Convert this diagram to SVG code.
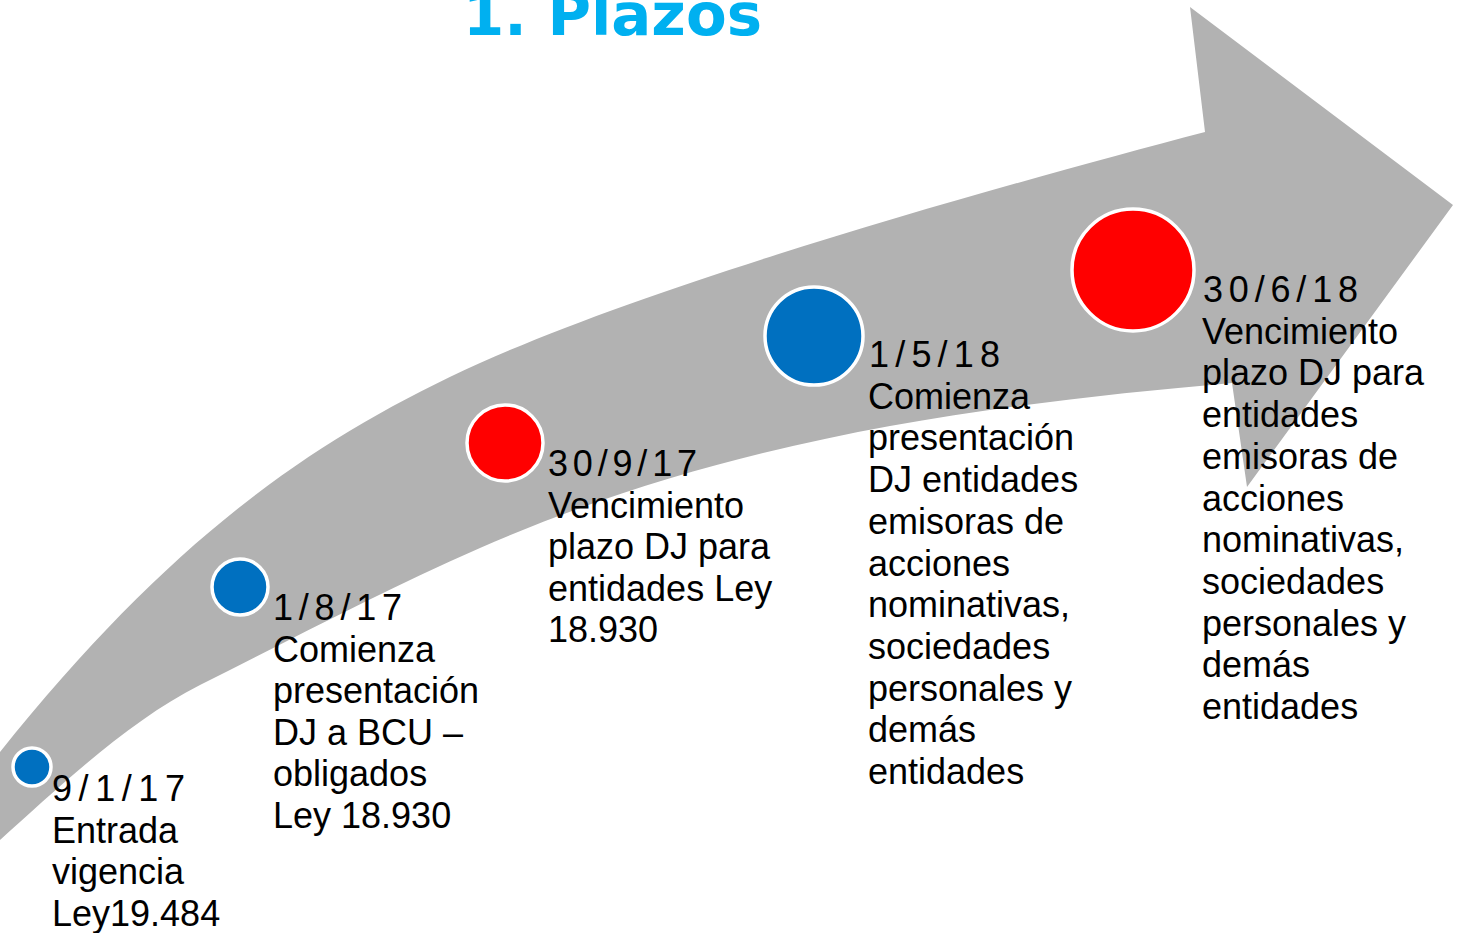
<svg xmlns="http://www.w3.org/2000/svg" width="1461" height="933" viewBox="0 0 1461 933">
<style>
.t{font-family:"Liberation Sans",Arial,sans-serif;font-size:36px;fill:#000}
.title{font-family:"DejaVu Sans",sans-serif;font-weight:bold;font-size:59px;fill:#00B0F0}
.blue{fill:#0070C0;stroke:#fff;stroke-width:3.5}
.red{fill:#FF0000;stroke:#fff;stroke-width:3.5}
</style>
<rect width="1461" height="933" fill="#fff"/>
<g id="arrow">
<path fill="#B2B2B2" d="M0 752 C170 540 310 440 480 363 C670 278 1000 186 1205 132 L1190 7 L1453 205 L1247 487 L1232 383 C982 405 730 438 480 548 C380 592 290 640 200 685 C130 720 60 786 0 840 Z"/>
</g>
<g id="title"><text class="title" x="463" y="35" textLength="299" lengthAdjust="spacingAndGlyphs">1. Plazos</text></g>
<g id="connectors"></g>
<g id="node1">
<circle class="blue" cx="32" cy="767" r="19"/>
<text class="t" x="52" y="801"><tspan textLength="133">9/1/17</tspan><tspan x="52" dy="41.7">Entrada</tspan><tspan x="52" dy="41.7">vigencia</tspan><tspan x="52" dy="41.7">Ley19.484</tspan></text>
</g>
<g id="node2">
<circle class="blue" cx="240" cy="587" r="28"/>
<text class="t" x="273" y="620"><tspan textLength="129">1/8/17</tspan><tspan x="273" dy="41.6">Comienza</tspan><tspan x="273" dy="41.6">presentación</tspan><tspan x="273" dy="41.6">DJ a BCU –</tspan><tspan x="273" dy="41.6">obligados</tspan><tspan x="273" dy="41.6">Ley 18.930</tspan></text>
</g>
<g id="node3">
<circle class="red" cx="505" cy="443" r="38"/>
<text class="t" x="548" y="476"><tspan textLength="149">30/9/17</tspan><tspan x="548" dy="41.6">Vencimiento</tspan><tspan x="548" dy="41.6">plazo DJ para</tspan><tspan x="548" dy="41.6">entidades Ley</tspan><tspan x="548" dy="41.6">18.930</tspan></text>
</g>
<g id="node4">
<circle class="blue" cx="814" cy="336" r="49"/>
<text class="t" x="869" y="367"><tspan textLength="131">1/5/18</tspan><tspan x="868" dy="41.7">Comienza</tspan><tspan x="868" dy="41.7">presentación</tspan><tspan x="868" dy="41.7">DJ entidades</tspan><tspan x="868" dy="41.7">emisoras de</tspan><tspan x="868" dy="41.7">acciones</tspan><tspan x="868" dy="41.7">nominativas,</tspan><tspan x="868" dy="41.7">sociedades</tspan><tspan x="868" dy="41.7">personales y</tspan><tspan x="868" dy="41.7">demás</tspan><tspan x="868" dy="41.7">entidades</tspan></text>
</g>
<g id="node5">
<circle class="red" cx="1133" cy="270" r="61"/>
<text class="t" x="1203" y="302"><tspan textLength="155">30/6/18</tspan><tspan x="1202" dy="41.7">Vencimiento</tspan><tspan x="1202" dy="41.7">plazo DJ para</tspan><tspan x="1202" dy="41.7">entidades</tspan><tspan x="1202" dy="41.7">emisoras de</tspan><tspan x="1202" dy="41.7">acciones</tspan><tspan x="1202" dy="41.7">nominativas,</tspan><tspan x="1202" dy="41.7">sociedades</tspan><tspan x="1202" dy="41.7">personales y</tspan><tspan x="1202" dy="41.7">demás</tspan><tspan x="1202" dy="41.7">entidades</tspan></text>
</g>
</svg>
